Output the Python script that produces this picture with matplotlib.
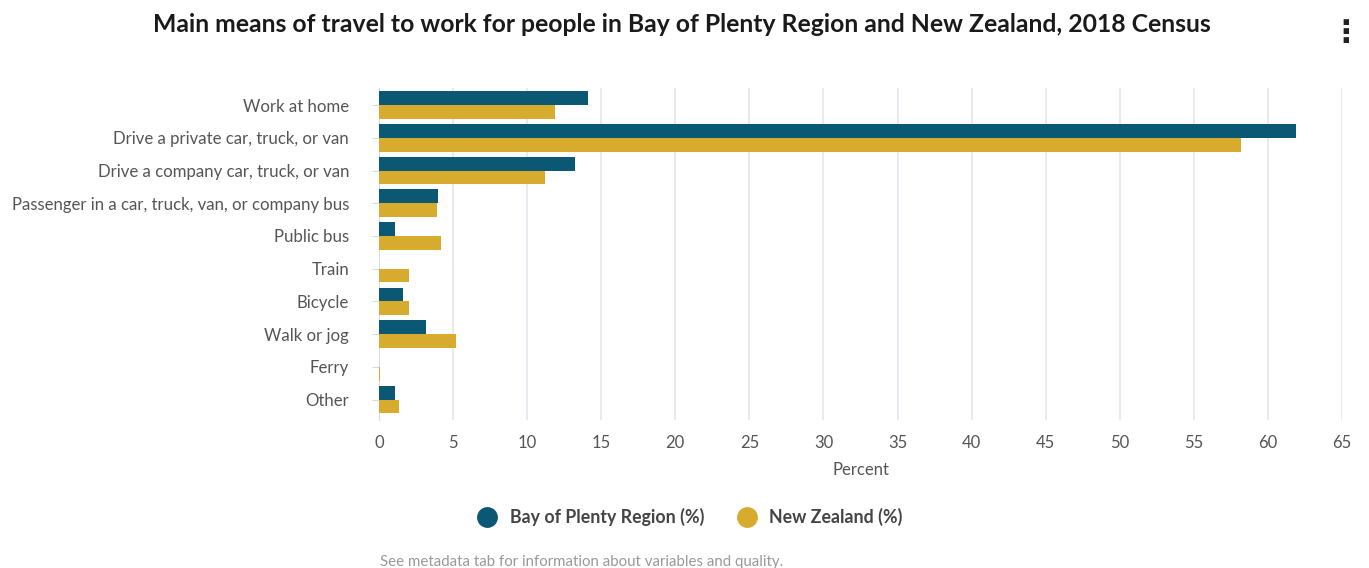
import numpy as np
import matplotlib.pyplot as plt
from matplotlib.lines import Line2D

plt.rcParams['font.family'] = ['Lato', 'DejaVu Sans']

categories = ['Work at home', 'Drive a private car, truck, or van', 'Drive a company car, truck, or van',
              'Passenger in a car, truck, van, or company bus', 'Public bus', 'Train', 'Bicycle',
              'Walk or jog', 'Ferry', 'Other']
bop = [14.1, 61.9, 13.2, 4.0, 1.1, 0.0, 1.6, 3.2, 0.0, 1.1]
nz = [11.9, 58.2, 11.2, 3.9, 4.2, 2.0, 2.0, 5.2, 0.1, 1.35]
series_names = ['Bay of Plenty Region (%)', 'New Zealand (%)']
colors = ['#0b5874', '#d6ab2e']

fig = plt.figure(figsize=(13.69, 5.68), dpi=100)
ax = fig.add_axes([379 / 1369, 1 - 420 / 568, (1342 - 379) / 1369, (420 - 88) / 568])

y = np.arange(len(categories))
h = 0.42
ax.barh(y - h / 2, bop, height=h, color=colors[0], zorder=3)
ax.barh(y + h / 2, nz, height=h, color=colors[1], zorder=3)

ax.set_ylim(len(categories) - 0.38, -0.52)
ax.set_xlim(0, 65)
ax.set_xticks(np.arange(0, 66, 5))
ax.set_yticks(y)
ax.set_yticklabels(categories)
ax.grid(axis='x', color='#e3e6ee', linewidth=1.2, zorder=0)
for s in ['top', 'right', 'bottom']:
    ax.spines[s].set_visible(False)
ax.spines['left'].set_color('#d5dbe6')
ax.tick_params(axis='y', length=5, color='#d5dbe6', labelsize=12.1, labelcolor='#555555', pad=16.5)
ax.tick_params(axis='x', length=0, labelsize=12, labelcolor='#555555', pad=11)
ax.set_xlabel('Percent', fontsize=12, color='#555555', labelpad=8)

fig.text(0.498, 1 - 25 / 568, 'Main means of travel to work for people in Bay of Plenty Region and New Zealand, 2018 Census',
         ha='center', va='center', fontsize=17.8, fontweight='bold', color='#1a1a1a')
fig.text(1346 / 1369, 1 - 33 / 568, '\u22ee', ha='center', va='center', fontsize=22, fontweight='bold', color='#222222')

handles = [Line2D([0], [0], marker='o', linestyle='', markersize=14, color=c) for c in colors]
fig.legend(handles, series_names, loc='center', bbox_to_anchor=(686 / 1369, 1 - 517 / 568), ncol=2,
           frameon=False, handletextpad=0.25, columnspacing=1.4,
           prop={'weight': 'bold', 'size': 12.8})
for t in fig.legends[0].get_texts():
    t.set_color('#444444')

fig.text(380 / 1369, 1 - 562 / 568, 'See metadata tab for information about variables and quality.',
         ha='left', va='center', fontsize=10.8, color='#999999')

fig.savefig('out.png', dpi=100)
